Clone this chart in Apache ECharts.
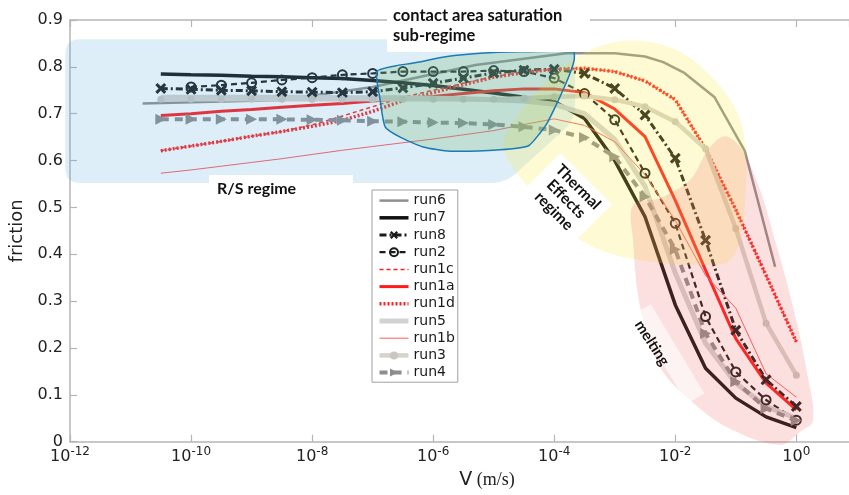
<!DOCTYPE html>
<html><head><meta charset="utf-8">
<script src="https://cdn.jsdelivr.net/npm/echarts@6/dist/echarts.min.js"></script>
<style>html,body{margin:0;padding:0;background:#fff}#c{width:849px;height:495px}</style>
</head><body><div id="c"></div>
<script>
// ---------- data (x stored as log10 of V in m/s) ----------
const xTickExponents = [-12, -10, -8, -6, -4, -2, 0];
const yTicks = [0, 0.1, 0.2, 0.3, 0.4, 0.5, 0.6, 0.7, 0.8, 0.9];
const seriesNames = ['run6','run7','run8','run2','run1c','run1a','run1d','run5','run1b','run3','run4'];

const expHalf = [-10.5,-10,-9.5,-9,-8.5,-8,-7.5,-7,-6.5,-6,-5.5,-5,-4.5,-4,-3.5,-3,-2.5,-2,-1.5,-1,-0.5,0];
const expRun2 = [-10,-9.5,-9,-8.5,-8,-7.5,-7,-6.5,-6,-5.5,-5,-4.5,-4,-3.5,-3,-2.5,-2,-1.5,-1,-0.5,0];
const expRun6 = [-10.8,-8.5,-7,-5.3,-3.8,-3,-2.5,-2.2,-1.85,-1.35,-0.85,-0.35];

const run6  = [0.722,0.729,0.757,0.804,0.829,0.829,0.822,0.810,0.787,0.735,0.620,0.373];
const run7  = [0.785,0.783,0.782,0.780,0.779,0.777,0.775,0.771,0.766,0.760,0.752,0.744,0.735,0.726,0.690,0.600,0.480,0.292,0.157,0.093,0.053,0.030];
const run8  = [0.754,0.752,0.750,0.749,0.747,0.746,0.745,0.747,0.755,0.765,0.776,0.787,0.793,0.795,0.786,0.754,0.697,0.605,0.430,0.238,0.132,0.075];
const run2  = [0.757,0.761,0.766,0.772,0.777,0.783,0.786,0.790,0.790,0.790,0.792,0.790,0.776,0.743,0.687,0.573,0.466,0.267,0.149,0.089,0.046];
const run1c = [0.621,0.631,0.641,0.652,0.662,0.676,0.695,0.715,0.735,0.750,0.765,0.779,0.789,0.795,0.797,0.790,0.770,0.730,0.625,0.495,0.355,0.213];
const run1a = [0.696,0.700,0.705,0.709,0.714,0.718,0.722,0.727,0.732,0.737,0.743,0.749,0.753,0.753,0.745,0.710,0.651,0.515,0.366,0.220,0.125,0.068];
const run1d = [0.621,0.631,0.641,0.652,0.662,0.673,0.686,0.705,0.728,0.745,0.762,0.778,0.788,0.795,0.797,0.790,0.770,0.730,0.625,0.495,0.355,0.213];
const run5  = [0.735,0.735,0.735,0.735,0.735,0.735,0.734,0.734,0.734,0.733,0.732,0.730,0.727,0.720,0.700,0.645,0.545,0.360,0.210,0.125,0.075,0.050];
const run1b = [0.573,0.580,0.588,0.596,0.604,0.613,0.622,0.630,0.638,0.646,0.655,0.664,0.677,0.689,0.675,0.640,0.570,0.472,0.355,0.285,0.145,0.095];
const run3  = [0.731,0.731,0.731,0.731,0.731,0.731,0.731,0.731,0.731,0.731,0.731,0.731,0.733,0.736,0.738,0.730,0.715,0.683,0.625,0.455,0.253,0.142];
const run4  = [0.688,0.688,0.688,0.688,0.688,0.687,0.686,0.684,0.683,0.681,0.680,0.677,0.672,0.665,0.649,0.608,0.523,0.410,0.231,0.128,0.071,0.045];

// annotation regions, vertices in data units [log10 V, friction]
const regionRS = [[-12.078,0.859],[-3.655,0.859],[-3.655,0.687],[-4.811,0.552],[-12.078,0.552]];
const regionContact = [[-6.930,0.790],[-6.628,0.802],[-6.330,0.808],[-5.769,0.822],[-5.224,0.829],[-4.563,0.832],[-3.683,0.832],[-3.671,0.815],[-3.737,0.787],[-3.853,0.751],[-3.985,0.714],[-4.117,0.680],[-4.233,0.659],[-4.431,0.631],[-4.894,0.623],[-5.720,0.620],[-6.165,0.629],[-6.545,0.650],[-6.793,0.672],[-6.875,0.729]];
const regionThermal = [[-4.844,0.627],[-4.646,0.687],[-4.233,0.755],[-3.655,0.819],[-2.994,0.853],[-2.417,0.853],[-1.922,0.832],[-1.508,0.793],[-1.178,0.746],[-0.930,0.687],[-0.831,0.612],[-0.847,0.516],[-0.930,0.430],[-1.129,0.384],[-1.508,0.377],[-2.417,0.384],[-3.242,0.409],[-3.903,0.462],[-4.398,0.537]];
const regionMelting = [[-2.697,0.505],[-2.251,0.520],[-1.755,0.559],[-1.458,0.623],[-1.178,0.652],[-0.897,0.623],[-0.600,0.537],[-0.352,0.430],[-0.054,0.288],[0.177,0.147],[0.276,0.046],[0.061,0.021],[-0.269,-0.007],[-1.145,0.031],[-1.755,0.089],[-2.251,0.159],[-2.581,0.288],[-2.697,0.430]];

// ---------- helpers ----------
const pairs = (exps, vals) => exps.map((e, i) => [Math.pow(10, e), vals[i]]);
const FONT = 'DejaVu Sans';
const xMin = 1e-12, xMax = Math.pow(10, 0.87);

function roundedPoly(pts, r, steps) {
  const out = [];
  const n = pts.length;
  for (let i = 0; i < n; i++) {
    const v = pts[i], a = pts[(i - 1 + n) % n], b = pts[(i + 1) % n];
    const da = [a[0]-v[0], a[1]-v[1]], db = [b[0]-v[0], b[1]-v[1]];
    const la = Math.hypot(da[0], da[1]), lb = Math.hypot(db[0], db[1]);
    const ra = Math.min(r, la / 2), rb = Math.min(r, lb / 2);
    const p1 = [v[0] + da[0]/la*ra, v[1] + da[1]/la*ra];
    const p2 = [v[0] + db[0]/lb*rb, v[1] + db[1]/lb*rb];
    for (let s = 0; s <= steps; s++) {
      const t = s / steps;
      out.push([(1-t)*(1-t)*p1[0] + 2*(1-t)*t*v[0] + t*t*p2[0],
                (1-t)*(1-t)*p1[1] + 2*(1-t)*t*v[1] + t*t*p2[1]]);
    }
  }
  return out;
}

const crossPath = 'path://M2,0 L5,3 L8,0 L10,2 L7,5 L10,8 L8,10 L5,7 L2,10 L0,8 L3,5 L0,2 Z';
const noMarker = { symbol: 'circle', symbolSize: 0, showSymbol: false, itemStyle: { color: 'rgba(0,0,0,0)', borderWidth: 0 } };

function lineSeries(name, data, color, width, type, extra) {
  return Object.assign({
    name, type: 'line', data, xAxisIndex: 0, yAxisIndex: 0, smooth: false, z: 2,
    lineStyle: { color, width, type: type || 'solid' },
    emphasis: { disabled: true }, animation: false
  }, extra || noMarker);
}

const series = [
  lineSeries('run6', pairs(expRun6, run6), '#8f8f8f', 2.5),
  lineSeries('run7', pairs(expHalf, run7), '#111111', 3.5),
  lineSeries('run8', pairs(expHalf, run8), '#1a1a1a', 3, [7,3,2,3], {symbol: crossPath, symbolSize: 11, itemStyle: {color: '#1a1a1a'}}),
  lineSeries('run2', pairs(expRun2, run2), '#1a1a1a', 2.2, [6,4], {symbol: 'circle', symbolSize: 9, itemStyle: {color: 'rgba(0,0,0,0)', borderColor: '#1a1a1a', borderWidth: 2}}),
  lineSeries('run1c', pairs(expHalf, run1c), '#ff2020', 1.5, [4,3]),
  lineSeries('run1a', pairs(expHalf, run1a), '#ff1a1a', 3),
  lineSeries('run1d', pairs(expHalf, run1d), '#ff2020', 3.5, [2,2]),
  lineSeries('run5', pairs(expHalf, run5), '#d2d2d2', 5),
  lineSeries('run1b', pairs(expHalf, run1b), '#ff5a5a', 1),
  lineSeries('run3', pairs(expHalf, run3), '#d6d2cc', 4.5, 'solid', {symbol: 'circle', symbolSize: 7, itemStyle: {color: '#cbc6bf'}}),
  lineSeries('run4', pairs(expHalf, run4), '#8d8d8d', 4, [8,6], {symbol: 'triangle', symbolRotate: -90, symbolSize: 11, itemStyle: {color: '#8d8d8d'}})
];

series.push({
  type: 'custom', name: 'regions', xAxisIndex: 0, yAxisIndex: 0, z: 3, clip: false,
  silent: true, animation: false, data: [[1e-6, 0.5]],
  renderItem: function (params, api) {
    const px = reg => reg.map(p => api.coord([Math.pow(10, p[0]), p[1]]));
    return { type: 'group', children: [
      { type: 'polygon', shape: { points: roundedPoly(px(regionRS), 15, 8) },
        style: { fill: 'rgba(90,170,220,0.2)' } },
      { type: 'polygon', shape: { points: px(regionThermal), smooth: 0.35 },
        style: { fill: 'rgba(250,235,60,0.22)' } },
      { type: 'polygon', shape: { points: px(regionMelting), smooth: 0.35 },
        style: { fill: 'rgba(240,100,100,0.2)' } },
      { type: 'polygon', shape: { points: px(regionContact), smooth: 0.2 },
        style: { fill: 'rgba(110,180,110,0.25)', stroke: '#1a7ab5', lineWidth: 1.5 } }
    ]};
  }
});

const axisColor = '#b5b5b5';
const xLabelFmt = function (v) {
  const e = Math.log10(v);
  const r = Math.round(e);
  if (Math.abs(e - r) > 1e-6 || xTickExponents.indexOf(r) < 0) return '';
  return '{b|10}{s|' + r + '}';
};

const option = {
  backgroundColor: '#fff',
  animation: false,
  grid: { left: 70, right: 0, top: 20, bottom: 53.3 },
  xAxis: [{
    type: 'log', logBase: 100, min: xMin, max: xMax, interval: 1,
    name: '{v|V}{u| (m/s)}', nameLocation: 'middle', nameGap: 29,
    nameTextStyle: { padding: [0, 0, 0, 55], rich: {
      v: { fontFamily: FONT, fontSize: 19, color: '#222' },
      u: { fontFamily: 'Liberation Serif', fontSize: 18, color: '#222' } } },
    axisLine: { show: true, lineStyle: { color: axisColor, width: 1.5 } },
    axisTick: { show: true, inside: true, length: 7, lineStyle: { color: axisColor, width: 1.2 } },
    splitLine: { show: false }, minorTick: { show: false },
    axisLabel: { formatter: xLabelFmt, margin: 4, showMaxLabel: false, rich: {
      b: { fontFamily: FONT, fontSize: 16, color: '#222', verticalAlign: 'bottom' },
      s: { fontFamily: FONT, fontSize: 12, color: '#222', verticalAlign: 'bottom', padding: [0, 0, 7, 0] } } }
  }, {
    type: 'log', logBase: 100, min: xMin, max: xMax, interval: 1, position: 'top',
    axisLine: { show: true, lineStyle: { color: axisColor, width: 1.5 } },
    axisTick: { show: true, inside: true, length: 7, lineStyle: { color: axisColor, width: 1.2 } },
    axisLabel: { show: false }, splitLine: { show: false }
  }],
  yAxis: {
    type: 'value', min: yTicks[0], max: yTicks[yTicks.length - 1], interval: 0.1,
    name: 'friction', nameLocation: 'middle', nameGap: 30,
    nameTextStyle: { fontFamily: FONT, fontSize: 18, color: '#222' },
    axisLine: { show: true, lineStyle: { color: axisColor, width: 1.5 } },
    axisTick: { show: true, inside: true, length: 7, lineStyle: { color: axisColor, width: 1.2 } },
    splitLine: { show: false },
    axisLabel: { fontFamily: FONT, fontSize: 16, color: '#222', margin: 7,
      formatter: v => (Math.abs(v) < 1e-9 ? '0' : v.toFixed(1)) }
  },
  legend: {
    data: seriesNames, orient: 'vertical', left: 372, top: 190,
    itemWidth: 29, itemHeight: 10, itemGap: 0, padding: [2, 3, 1, 5],
    borderColor: '#a0a0a0', borderWidth: 1, backgroundColor: '#fff',
    selectedMode: false, z: 20,
    lineStyle: { width: 'inherit' },
    textStyle: { fontFamily: FONT, fontSize: 14, color: '#1a1a1a', lineHeight: 17.2 }
  },
  series: series,
  graphic: [
    { type: 'rect', z: 100, shape: { x: 387, y: 0, width: 203, height: 52 }, style: { fill: '#fff' } },
    { type: 'text', z: 101, x: 393, y: 6, style: { text: 'contact area saturation\nsub-regime', font: 'bold 16.5px Lato', fill: '#111', lineHeight: 20 } },
    { type: 'rect', z: 100, shape: { x: 209, y: 175, width: 144, height: 25 }, style: { fill: '#fff' } },
    { type: 'text', z: 101, x: 217, y: 181, style: { text: 'R/S regime', font: 'bold 16px Lato', fill: '#111' } },
    { type: 'text', z: 101, x: 566, y: 199, rotation: -0.785, style: { text: 'Thermal\nEffects\nregime', font: 'bold 15.5px Lato', fill: '#111', align: 'center', verticalAlign: 'middle', lineHeight: 17, backgroundColor: '#fff', padding: [3, 8] } },
    { type: 'rect', z: 100, x: 669, y: 354, rotation: -1.03, shape: { x: -52, y: -10, width: 104, height: 20 }, style: { fill: 'rgba(255,255,255,0.6)' } },
    { type: 'text', z: 101, x: 652, y: 343, rotation: -1.0, style: { text: 'melting', font: 'bold 15px Lato', fill: '#111', align: 'center', verticalAlign: 'middle' } }
  ]
};

const chart = echarts.init(document.getElementById('c'), null, { renderer: 'canvas' });
chart.setOption(option);
</script>
</body></html>
